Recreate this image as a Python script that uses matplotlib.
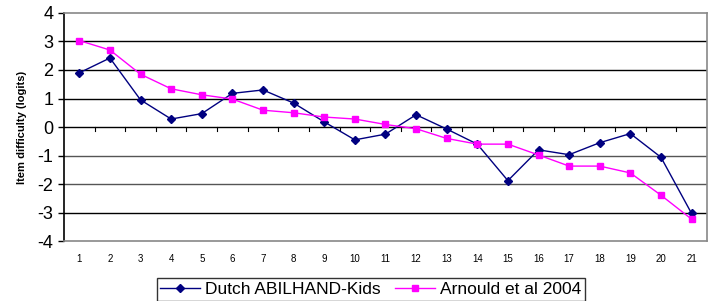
import matplotlib
matplotlib.use("Agg")
import matplotlib.pyplot as plt
import numpy as np

plt.rcParams['font.family'] = ['Liberation Sans', 'DejaVu Sans']

items = list(range(1, 22))
dutch = [1.9, 2.42, 0.95, 0.28, 0.47, 1.18, 1.3, 0.84, 0.18, -0.45, -0.25,
         0.43, -0.07, -0.6, -1.88, -0.8, -0.97, -0.55, -0.23, -1.06, -3.03]
arnould = [3.03, 2.7, 1.85, 1.34, 1.13, 0.98, 0.59, 0.5, 0.35, 0.28, 0.09,
           -0.06, -0.4, -0.6, -0.6, -0.98, -1.37, -1.37, -1.61, -2.39, -3.23]
yticks = [4, 3, 2, 1, 0, -1, -2, -3, -4]

fig = plt.figure(figsize=(7.09, 3.01), dpi=100)
ax = fig.add_axes([0.0903, 0.199, 0.9067, 0.758])

ax.set_xlim(0.5, 21.5)
ax.set_ylim(-4, 4)

for v in yticks:
    if v in (4, -4, 0):
        continue
    col = 'black' if v in (1, 2, 3, -3) else '#555555'
    ax.axhline(v, color=col, lw=1.0, zorder=1)

# x-axis line at zero with ticks between categories
ax.axhline(0, color='black', lw=1.0, zorder=2)
for b in np.arange(1.5, 21.5, 1.0):
    ax.plot([b, b], [0, -0.13], color='black', lw=0.8, zorder=2)

ax.plot(items, dutch, color='#000080', lw=1.0, marker='D', ms=4,
        label='Dutch ABILHAND-Kids', zorder=3)
ax.plot(items, arnould, color='#FF00FF', lw=1.0, marker='s', ms=5,
        label='Arnould et al 2004', zorder=4)

ax.set_yticks(yticks)
ax.set_yticklabels([str(v) for v in yticks], fontsize=13)
ax.set_xticks(items)
ax.set_xticklabels([str(i) for i in items], fontsize=7)
ax.tick_params(axis='x', length=0, pad=9)
ax.tick_params(axis='y', length=4, direction='out', width=1)

for s in ['top', 'right']:
    ax.spines[s].set_color('#888888')
    ax.spines[s].set_linewidth(1.2)
ax.spines['bottom'].set_color('#888888')
ax.spines['bottom'].set_linewidth(1.2)
ax.spines['left'].set_color('black')
ax.spines['left'].set_linewidth(1.2)

ax.set_ylabel('Item difficulty (logits)', fontsize=8, fontweight='bold', labelpad=8)

leg = ax.legend(loc='center', bbox_to_anchor=(0.477, -0.212), ncol=2,
                fontsize=12.5, frameon=True, fancybox=False, edgecolor='black',
                handlelength=2.3, columnspacing=0.8, handletextpad=0.3,
                borderpad=0.2, borderaxespad=0)
leg.get_frame().set_linewidth(1.0)

fig.savefig('out.png', dpi=100)
